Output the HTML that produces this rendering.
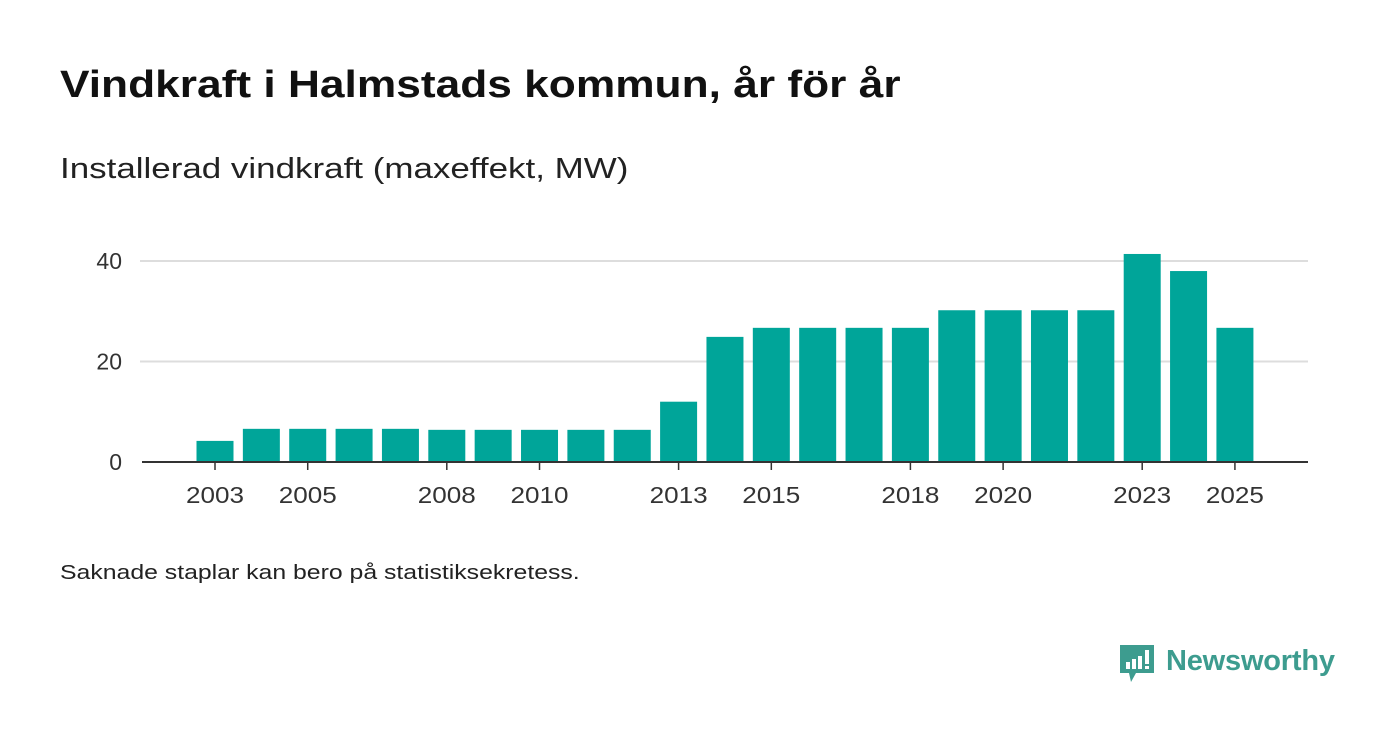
<!DOCTYPE html>
<html><head><meta charset="utf-8"><style>
body{margin:0;width:1400px;height:745px;background:#fff;font-family:"Liberation Sans",sans-serif;position:relative;overflow:hidden}
.t,.s,.n{position:absolute;left:60px;transform-origin:0 0;white-space:nowrap}
.t{top:64px;font-size:38px;font-weight:bold;color:#111;transform:scaleX(1.165)}
.s{top:153px;font-size:29px;color:#222;transform:scaleX(1.205)}
.n{top:562px;font-size:20px;color:#222;transform:scaleX(1.24)}
svg{position:absolute;left:0;top:0}
</style></head><body>
<div class="t">Vindkraft i Halmstads kommun, år för år</div>
<div class="s">Installerad vindkraft (maxeffekt, MW)</div>
<div class="n">Saknade staplar kan bero på statistiksekretess.</div>
<svg id="c" width="1400" height="745">
<g>
<path d="M1120,645 h34 v28 h-18 l-5,9 l-2,-9 h-9 z" fill="#3d9c8f"/>
<rect x="1126" y="662" width="4" height="7" fill="#fff"/><rect x="1132" y="659" width="4" height="10" fill="#fff"/><rect x="1138" y="656" width="4" height="13" fill="#fff"/><rect x="1145" y="650" width="4" height="14" fill="#fff"/><rect x="1145" y="666" width="4" height="3" fill="#fff"/>
<text x="1166" y="670" font-size="29" font-weight="bold" fill="#3d9c8f" font-family="Liberation Sans, sans-serif" textLength="169">Newsworthy</text>
</g>
</svg>
<script>
const years=[2003,2004,2005,2006,2007,2008,2009,2010,2011,2012,2013,2014,2015,2016,2017,2018,2019,2020,2021,2022,2023,2024,2025];
const values=[4.2,6.6,6.6,6.6,6.6,6.4,6.4,6.4,6.4,6.4,12,24.9,26.7,26.7,26.7,26.7,30.2,30.2,30.2,30.2,41.4,38,26.7];
const yTicks=[0,20,40];
const xLabels=[2003,2005,2008,2010,2013,2015,2018,2020,2023,2025];
const svg=document.getElementById('c'),NS='http://www.w3.org/2000/svg';
const x=y=>215+(y-2003)*46.36, yS=v=>462-v*5.025;
function el(t,a,p){const e=document.createElementNS(NS,t);for(const k in a)e.setAttribute(k,a[k]);(p||svg).appendChild(e);return e;}
yTicks.forEach(v=>{
 if(v>0){const g=el('line',{x1:140,x2:1308,y1:yS(v),y2:yS(v),stroke:'#ddd','stroke-width':2});
 
 }
 const t=el('text',{x:122,y:yS(v)+8,'text-anchor':'end','font-size':23,fill:'#333'});t.textContent=v;
 
 
});
years.forEach((yr,i)=>{
 const r=el('rect',{x:x(yr)-18.5,y:yS(values[i]),width:37,height:462-yS(values[i]),fill:'#00a599'});
 
 
});
const ax=el('line',{x1:142,x2:1308,y1:462,y2:462,stroke:'#333','stroke-width':2});


xLabels.forEach(yr=>{
 const tk=el('line',{x1:x(yr),x2:x(yr),y1:462,y2:470,stroke:'#333','stroke-width':1.5});
 
 
 const t=el('text',{x:x(yr),y:503,'text-anchor':'middle','font-size':23,fill:'#333',textLength:58,lengthAdjust:'spacingAndGlyphs'});t.textContent=yr;
 
 
});
</script>
</body></html>
